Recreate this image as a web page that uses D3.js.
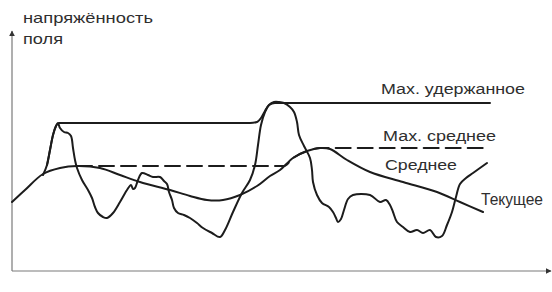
<!DOCTYPE html>
<html>
<head>
<meta charset="utf-8">
<style>
	body { margin: 0; background: #fff; }
	.axis-line {
		fill: none;
		stroke: #7a7a7a;
		stroke-width: 1.2px;
	}
	.curve {
		fill: none;
		stroke: #1c1c1c;
		stroke-width: 2px;
		stroke-linejoin: round;
		stroke-linecap: round;
	}
	text {
		font-family: "Liberation Sans", Arial, sans-serif;
		fill: #2e2e2e;
	}
</style>
<script src="https://d3js.org/d3.v7.min.js"></script>
</head>
<body>
<script>
	// time / field strength, arbitrary units
	var current = [
		[31,96],[35,106],[38,121],[41,136],[44,145],[46,148],[48,143],[52,139],[56,138],[59,135],
		[61,123],[63,111],[65,103],[70,91],[76,81],[80,73],[83,64],[86,58],[91,54],[95,53],
		[101,58],[108,69],[115,81],[119,86],[121,82],[123,83],[126,91],[130,98],[136,96],[141,94],
		[148,94],[152,90],[155,87],[157,79],[160,71],[162,63],[166,58],[172,56],[178,53],[185,48],
		[191,43],[200,38],[208,34],[213,41],[221,59],[230,78],[238,91],[243,106],[246,126],[249,146],
		[253,159],[257,166],[262,169],[267,169],[272,168],[278,164],[282,159],[285,149],[287,136],[292,125],
		[298,113],[300,101],[301,89],[305,76],[310,68],[317,64],[321,59],[324,53],[326,49],[329,52],
		[332,61],[336,72],[341,76],[358,76],[368,69],[374,71],[378,66],[381,59],[385,49],[391,44],
		[398,39],[405,41],[411,38],[418,41],[424,34],[430,35],[435,46],[440,59],[444,74],[448,87],
		[454,93],[461,98],[475,108]
	];
	var average = [
		[0,69],[13,81],[31,97],[48,103],[65,105],[88,103],[108,96],[128,89],[158,81],[178,75],
		[195,71],[211,71],[228,76],[245,85],[258,95],[268,101],[281,113],[295,120],[308,123],[318,122],
		[335,111],[358,99],[391,89],[425,79],[448,69],[471,59]
	];
	var maxHeld = [
		[35,106],[38,121],[41,136],[44,145],[47,148],[238,148],[245,149],[249,153],[253,160],[257,166],
		[263,168],[478,168]
	];
	var maxAverage = [
		[65,105],[272,105],[281,113],[295,120],[308,123],[474,123]
	];
	var titleLines = ["напряжённость", "поля"];
	var seriesLabels = ["Мах. удержанное", "Мах. среднее", "Среднее", "Текущее"];

	var width = 552, height = 292;
	var x = d3.scaleLinear().domain([0, 538]).range([12, 550]);
	var y = d3.scaleLinear().domain([0, 238]).range([271, 33]);

	var svg = d3.select("body").append("svg")
		.attr("width", width)
		.attr("height", height);

	var defs = svg.append("defs");
	defs.append("marker")
		.attr("id", "arrow")
		.attr("viewBox", "0 0 10 10")
		.attr("refX", 9).attr("refY", 5)
		.attr("markerWidth", 5).attr("markerHeight", 5)
		.attr("orient", "auto")
	  .append("path")
		.attr("d", "M0,0 L10,5 L0,10 z")
		.attr("fill", "#333");

	// axes: plain lines with arrow heads, no ticks
	svg.append("line")
		.attr("class", "axis-line")
		.attr("x1", x(0)).attr("y1", y(0))
		.attr("x2", x(0)).attr("y2", y(240))
		.attr("marker-end", "url(#arrow)");
	svg.append("line")
		.attr("class", "axis-line")
		.attr("x1", x(0)).attr("y1", y(0))
		.attr("x2", x(539)).attr("y2", y(0))
		.attr("marker-end", "url(#arrow)");

	var line = d3.line()
		.x(function(d){ return x(d[0]); })
		.y(function(d){ return y(d[1]); })
		.curve(d3.curveCatmullRom.alpha(0.5));
	var straight = d3.line()
		.x(function(d){ return x(d[0]); })
		.y(function(d){ return y(d[1]); })
		.curve(d3.curveMonotoneX);

	svg.append("path").attr("class", "curve").attr("d", line(average));
	svg.append("path").attr("class", "curve").attr("d", line(current));
	svg.append("path").attr("class", "curve").attr("d", straight(maxHeld));
	svg.append("path").attr("class", "curve")
		.attr("stroke-dasharray", "15,7")
		.attr("d", straight(maxAverage));

	// title
	var titlePos = [[23, 23, 130], [23, 44, 40]];
	svg.selectAll("text.title")
		.data(titleLines)
		.enter().append("text")
		.attr("class", "title")
		.attr("x", function(d, i){ return titlePos[i][0]; })
		.attr("y", function(d, i){ return titlePos[i][1]; })
		.attr("textLength", function(d, i){ return titlePos[i][2]; })
		.attr("lengthAdjust", "spacingAndGlyphs")
		.style("font-size", "15px")
		.text(function(d){ return d; });

	// series labels: x, baseline, width, size
	var labelPos = [[381, 94, 144, 15.5], [383, 141, 113, 15.5], [385, 170, 72, 15.5], [481, 205, 62, 16]];
	svg.selectAll("text.label")
		.data(seriesLabels)
		.enter().append("text")
		.attr("class", "label")
		.attr("x", function(d, i){ return labelPos[i][0]; })
		.attr("y", function(d, i){ return labelPos[i][1]; })
		.attr("textLength", function(d, i){ return labelPos[i][2]; })
		.attr("lengthAdjust", "spacingAndGlyphs")
		.style("font-size", function(d, i){ return labelPos[i][3] + "px"; })
		.text(function(d){ return d; });
</script>
</body>
</html>
